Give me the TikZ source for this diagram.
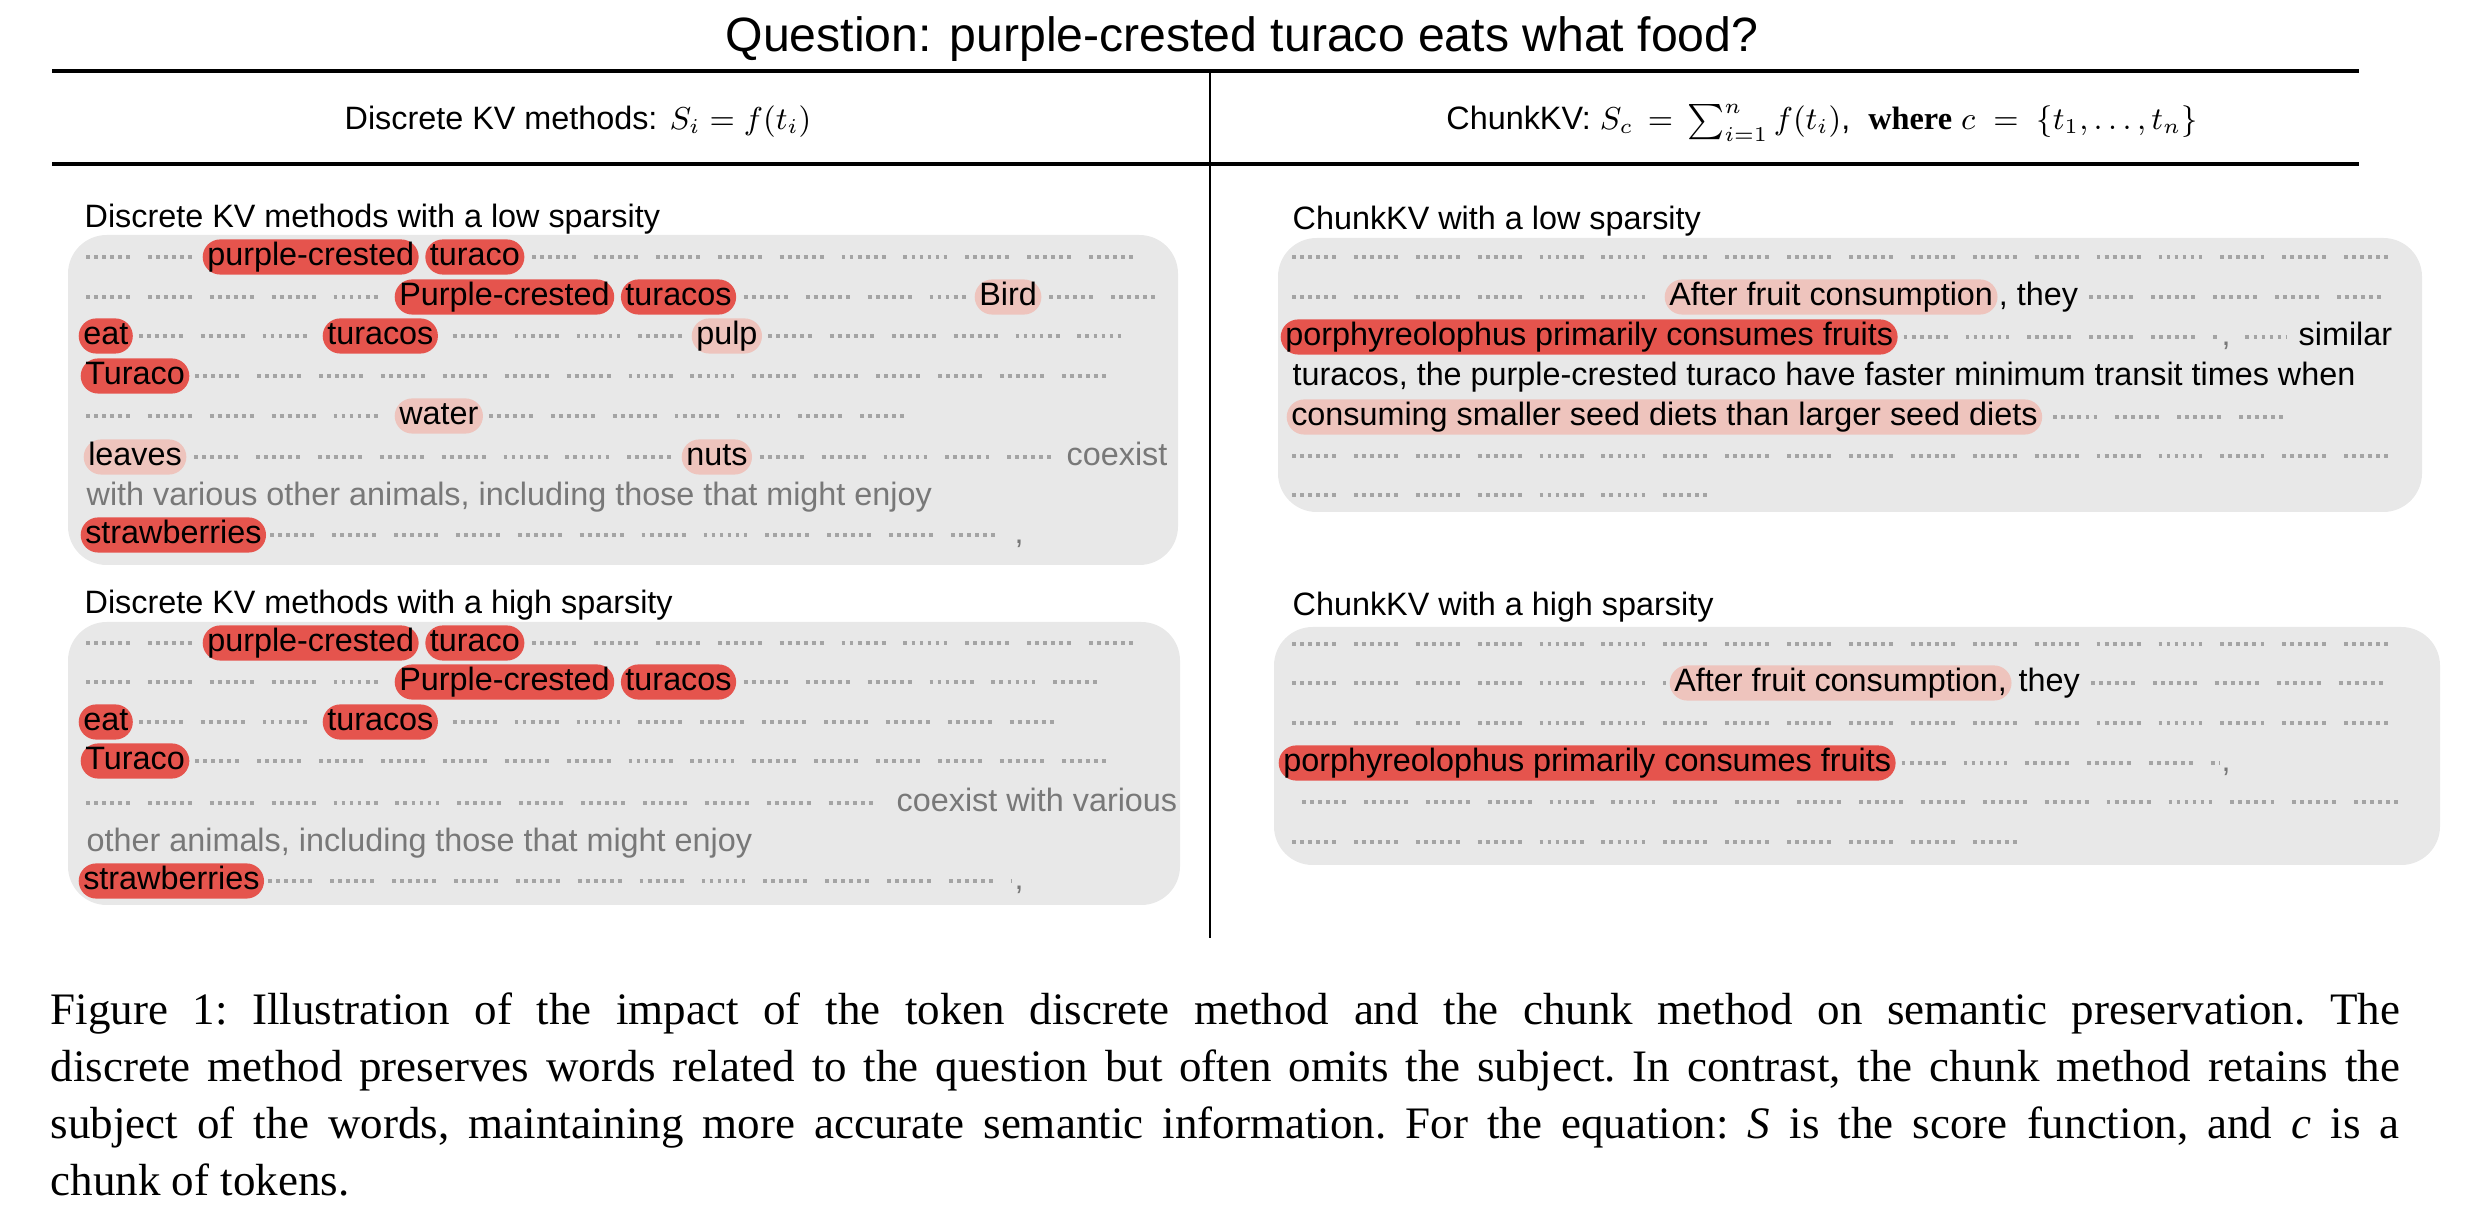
\documentclass[tikz,border=0pt]{standalone}
\usepackage{fontspec}
\setmainfont{Liberation Sans}
\newfontfamily\capfont{Liberation Serif}
\usetikzlibrary{positioning}
\definecolor{boxgray}{HTML}{E8E8E8}
\definecolor{dotgray}{HTML}{A4A4A4}
\definecolor{hotred}{HTML}{E5544D}
\definecolor{warmpink}{HTML}{EEC4BD}
\definecolor{fadegray}{HTML}{787878}
\newcommand\bodyfont{\fontsize{9.2}{11}\selectfont}
\tikzset{
  panel/.style  = {fill=boxgray, rounded corners=11pt},
  plabel/.style = {anchor=base west, inner sep=0pt, font=\bodyfont},
  tok/.style    = {anchor=west, inner sep=0pt, text height=6.8pt,
                   text depth=2.2pt, font=\bodyfont},
  hot/.style    = {tok, fill=hotred, rounded corners=5pt,
                   inner xsep=1.3pt, inner ysep=0.5pt},
  warm/.style   = {hot, fill=warmpink},
  faded/.style  = {tok, text=fadegray},
  dotrow/.style = {draw=dotgray, line width=1.1pt,
                   dash pattern=on 1.1pt off 1.18pt on 1.1pt off 1.18pt
                   on 1.1pt off 1.18pt on 1.1pt off 1.18pt
                   on 1.1pt off 1.18pt on 1.1pt off 5.1pt},
  rule/.style   = {line width=0.95pt},
}

\begin{document}
\begin{tikzpicture}[x=0.01cm, y=-0.01cm]
  \useasboundingbox (0,0) rectangle (2484,1228);

  % title and table head
  \node[anchor=base, font=\fontsize{13.7}{16}\selectfont] (question) at (1242,52)
    {Question: purple-crested turaco eats what food?};
  \draw[line width=0.7pt] (1210,71) -- (1210,938);
  \draw[rule] (52,71) -- (2359,71);
  \draw[rule] (52,164) -- (2359,164);
  \node[anchor=base, font=\bodyfont] (headL) at (578,130)
    {Discrete KV methods: $S_i = f(t_i)$};
  \node[anchor=base, font=\bodyfont] (headR) at (1822,130)
    {ChunkKV: $S_c \,=\, \sum_{i=1}^{n} f(t_i)$,\ \ {\capfont\bfseries where}
     $c \;=\; \{t_1, \ldots, t_n\}$};

  % discrete, low sparsity
  \fill[panel] (68,235) rectangle (1178,565);
  \node[plabel] (dlo) at (84,228) {Discrete KV methods with a low sparsity};
  \node[hot] (dlo-a) at (202,257) {purple-crested};
  \node[hot, right=1.5pt of dlo-a] (dlo-b) {turaco};
  \draw[dotrow] (86,257) -- ([xshift=-1.5pt]dlo-a.west);
  \draw[dotrow] ([xshift=2pt]dlo-b.east) -- (1150,257);
  \node[hot] (dlo-c) at (394,297) {Purple-crested};
  \node[hot, right=1.5pt of dlo-c] (dlo-d) {turacos};
  \node[warm] (dlo-e) at (974,297) {Bird};
  \draw[dotrow] (86,297) -- ([xshift=-1.5pt]dlo-c.west);
  \draw[dotrow] ([xshift=2pt]dlo-d.east) -- ([xshift=-1.5pt]dlo-e.west);
  \draw[dotrow] ([xshift=2pt]dlo-e.east) -- (1163,297);
  \node[hot] (dlo-f) at (78,336) {eat};
  \node[hot] (dlo-g) at (322,336) {turacos};
  \node[warm] (dlo-h) at (691,336) {pulp};
  \draw[dotrow] ([xshift=1.5pt]dlo-f.east) -- ([xshift=-1.5pt]dlo-g.west);
  \draw[dotrow] ([xshift=4pt]dlo-g.east) -- ([xshift=-1.5pt]dlo-h.west);
  \draw[dotrow] ([xshift=1.5pt]dlo-h.east) -- (1138,336);
  \node[hot] (dlo-i) at (80,376) {Turaco};
  \draw[dotrow] ([xshift=1.5pt]dlo-i.east) -- (1122,376);
  \node[warm] (dlo-j) at (394,416) {water};
  \draw[dotrow] (86,416) -- ([xshift=-1.5pt]dlo-j.west);
  \draw[dotrow] ([xshift=1.5pt]dlo-j.east) -- (917,416);
  \node[warm] (dlo-k) at (83,457) {leaves};
  \node[warm] (dlo-l) at (681,457) {nuts};
  \node[faded] (dlo-m) at (1066,457) {coexist};
  \draw[dotrow] ([xshift=2pt]dlo-k.east) -- ([xshift=-1.5pt]dlo-l.west);
  \draw[dotrow] ([xshift=2pt]dlo-l.east) -- ([xshift=-3pt]dlo-m.west);
  \node[faded] (dlo-n) at (86,497)
    {with various other animals, including those that might enjoy};
  \node[hot] (dlo-o) at (80,535) {strawberries};
  \node[faded] (dlo-p) at (1014,535) {,};
  \draw[dotrow] ([xshift=1pt]dlo-o.east) -- ([xshift=-0.5pt]dlo-p.west);

  % discrete, high sparsity
  \fill[panel] (68,622) rectangle (1180,905);
  \node[plabel] (dhi) at (84,614) {Discrete KV methods with a high sparsity};
  \node[hot] (dhi-a) at (202,643) {purple-crested};
  \node[hot, right=1.5pt of dhi-a] (dhi-b) {turaco};
  \draw[dotrow] (86,643) -- ([xshift=-1.5pt]dhi-a.west);
  \draw[dotrow] ([xshift=2pt]dhi-b.east) -- (1150,643);
  \node[hot] (dhi-c) at (394,682) {Purple-crested};
  \node[hot, right=1.5pt of dhi-c] (dhi-d) {turacos};
  \draw[dotrow] (86,682) -- ([xshift=-1.5pt]dhi-c.west);
  \draw[dotrow] ([xshift=2pt]dhi-d.east) -- (1100,682);
  \node[hot] (dhi-e) at (78,722) {eat};
  \node[hot] (dhi-f) at (322,722) {turacos};
  \draw[dotrow] ([xshift=1.5pt]dhi-e.east) -- ([xshift=-1.5pt]dhi-f.west);
  \draw[dotrow] ([xshift=4pt]dhi-f.east) -- (1066,722);
  \node[hot] (dhi-g) at (80,761) {Turaco};
  \draw[dotrow] ([xshift=1.5pt]dhi-g.east) -- (1122,761);
  \node[faded] (dhi-h) at (896,803) {coexist with various};
  \draw[dotrow] (86,803) -- ([xshift=-3pt]dhi-h.west);
  \node[faded] (dhi-i) at (86,843)
    {other animals, including those that might enjoy};
  \node[hot] (dhi-j) at (78,881) {strawberries};
  \node[faded] (dhi-k) at (1014,881) {,};
  \draw[dotrow] ([xshift=1pt]dhi-j.east) -- ([xshift=-0.5pt]dhi-k.west);

  % chunk, low sparsity
  \fill[panel] (1278,238) rectangle (2422,512);
  \node[plabel] (clo) at (1292,230) {ChunkKV with a low sparsity};
  \draw[dotrow] (1292,257) -- (2402,257);
  \node[warm] (clo-a) at (1664,297) {After fruit consumption};
  \node[tok, right=0pt of clo-a] (clo-b) {, they};
  \draw[dotrow] (1292,297) -- ([xshift=-1pt]clo-a.west);
  \draw[dotrow] ([xshift=3pt]clo-b.east) -- (2397,297);
  \node[hot] (clo-c) at (1280,337) {porphyreolophus primarily consumes fruits};
  \node[faded] (clo-d) at (2221,337) {,};
  \node[tok] (clo-e) at (2298,337) {similar};
  \draw[dotrow] ([xshift=1.5pt]clo-c.east) -- ([xshift=-0.5pt]clo-d.west);
  \draw[dotrow] ([xshift=4pt]clo-d.east) -- ([xshift=-3pt]clo-e.west);
  \node[tok] (clo-f) at (1292,377)
    {turacos, the purple-crested turaco have faster minimum transit times when};
  \node[warm] (clo-g) at (1286,417)
    {consuming smaller seed diets than larger seed diets};
  \draw[dotrow] ([xshift=3pt]clo-g.east) -- (2287,417);
  \draw[dotrow] (1292,456) -- (2402,456);
  \draw[dotrow] (1292,495) -- (1723,495);

  % chunk, high sparsity
  \fill[panel] (1274,627) rectangle (2440,865);
  \node[plabel] (chi) at (1292,616) {ChunkKV with a high sparsity};
  \draw[dotrow] (1292,644) -- (2402,644);
  \node[warm] (chi-a) at (1669,683) {After fruit consumption,};
  \node[tok] (chi-b) at (2018,683) {they};
  \draw[dotrow] (1292,683) -- ([xshift=-1pt]chi-a.west);
  \draw[dotrow] ([xshift=3pt]chi-b.east) -- (2396,683);
  \draw[dotrow] (1292,723) -- (2402,723);
  \node[hot] (chi-c) at (1278,763) {porphyreolophus primarily consumes fruits};
  \node[faded] (chi-d) at (2221,763) {,};
  \draw[dotrow] ([xshift=1.5pt]chi-c.east) -- ([xshift=-0.5pt]chi-d.west);
  \draw[dotrow] (1302,802) -- (2412,802);
  \draw[dotrow] (1292,842) -- (2030,842);

  % caption
  \node[anchor=north west, inner sep=0pt, text width=668pt, align=justify,
        font=\capfont\fontsize{12.8}{16.2}\selectfont\frenchspacing]
        (caption) at (50,992)
    {Figure 1: Illustration of the impact of the token discrete method and the
     chunk method on semantic preservation. The\linebreak discrete method
     preserves words related to the question but often omits the subject. In
     contrast, the chunk method retains the\linebreak subject of the words,
     maintaining more accurate semantic information. For the equation:
     {\itshape S} is the score function, and {\itshape c} is a\linebreak
     chunk of tokens.};
\end{tikzpicture}
\end{document}
